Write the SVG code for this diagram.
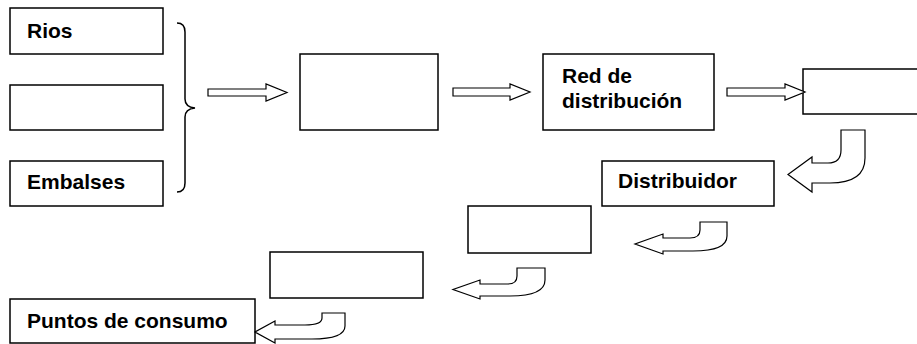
<svg xmlns="http://www.w3.org/2000/svg" width="917" height="344" viewBox="0 0 917 344">
<style>
.box{fill:#fff;stroke:#000;stroke-width:1.5}
.arr{fill:#fff;stroke:#000;stroke-width:1.2;stroke-linejoin:miter}
.brace{fill:none;stroke:#000;stroke-width:1.5}
.t{font-family:"Liberation Sans",Arial,sans-serif;font-weight:bold;font-size:21px;fill:#000}
</style>
<rect width="917" height="344" fill="#fff"/>
<g id="rios"><rect class="box" x="10" y="8" width="153" height="46"/><text class="t" x="27" y="38">Rios</text></g>
<g id="blank1"><rect class="box" x="10" y="85" width="153" height="45"/></g>
<g id="embalses"><rect class="box" x="10" y="161" width="153" height="45"/><text class="t" x="27" y="189">Embalses</text></g>
<g id="brace"><path class="brace" d="M177,23 Q185,23 185,32 V99 Q185,107 195,108 Q185,109 185,117 V183 Q185,192 177,192"/></g>
<g id="blank2"><rect class="box" x="300" y="54" width="138" height="76"/></g>
<g id="red"><rect class="box" x="543" y="54" width="171" height="76"/><text class="t" x="562" y="83">Red de</text><text class="t" x="562" y="108">distribución</text></g>
<g id="blank3"><rect class="box" x="803" y="69" width="120" height="45"/></g>
<g id="distribuidor"><rect class="box" x="602" y="161" width="172" height="45"/><text class="t" x="618" y="188">Distribuidor</text></g>
<g id="blank4"><rect class="box" x="468" y="206" width="123" height="47"/></g>
<g id="blank5"><rect class="box" x="270" y="252" width="153" height="46"/></g>
<g id="puntos"><rect class="box" x="10" y="299" width="245" height="44"/><text class="t" x="27" y="328">Puntos de consumo</text></g>
<g id="connectors">
<path class="arr" d="M208,89 H266 V84 L287,92.5 L266,101 V96 H208 Z"/>
<path class="arr" d="M453,88 H510 V84 L530,92 L510,100 V96 H453 Z"/>
<path class="arr" d="M727,88 H785 V84 L805,92 L785,100 V96 H727 Z"/>
<path class="arr" d="M841,130 H865 V158 Q865,183 830,183 H812 V192 L788,174.5 L812,157 V163 H828 Q841,163 841,150 Z"/>
<path class="arr" d="M700,222 H727 V236 Q727,251 693,251 H663 V254 L635,244 L663,234 V238 H690 Q700,238 700,230 Z"/>
<path class="arr" d="M517,268 H545 V280 Q545,296 510,296 H480 V299 L453,289.5 L480,280 V284 H508 Q517,284 517,276 Z"/>
<path class="arr" d="M322,313 H345 V326 Q345,339 312,339 H275 V343 L255,332 L275,321 V325 H305 Q322,325 322,318 Z"/>
</g>
</svg>
